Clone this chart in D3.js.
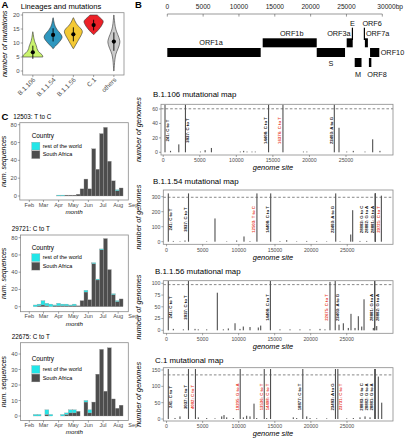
<!DOCTYPE html>
<html><head><meta charset="utf-8">
<script src="https://d3js.org/d3.v7.min.js"></script>
<style>
html,body{margin:0;padding:0;background:#fff;}
svg{display:block;}
text{font-family:"Liberation Sans",Arial,Helvetica,sans-serif;}
</style></head>
<body>
<svg id="fig" width="412" height="440" viewBox="0 0 412 440"></svg>
<script>
// ================= DATA =================
// Panel A: lineages and number of mutations
const lineages = ["B.1.106","B.1.1.54","B.1.1.56","C.1","others"];
const mutationMean = [6.7, 12.9, 13.1, 16.4, 10.5];
const mutationSd   = [2.35, 2.35, 2.5, 1.9, 3.3];
const mutationTicks = [0,5,10,15,20];
// violin profiles: [number of mutations, half width (density units)]
const violin_B1106 = [[5,10],[5.4,9.8],[5.8,9.2],[6.2,8],[6.6,6.6],[7,5.6],[7.5,4.8],[8,4.2],[8.5,3.9],[9,3.5],[9.5,3],[10,2.4],[10.5,1.9],[11,1.5],[11.5,1.2],[12,0.9],[12.5,0.7],[13,0.5],[13.5,0.3],[14,0.1]];
const violin_B1154 = [[8,0.2],[8.5,1.2],[9,2.6],[9.5,4],[10,5.3],[10.5,6.5],[11,7.6],[11.5,8.5],[12,9],[12.5,8.8],[13,8],[13.5,7],[14,5.8],[14.5,4.6],[15,3.6],[15.5,2.8],[16,2.1],[16.5,1.6],[17,1.2],[17.5,0.9],[18,0.6],[18.5,0.4],[19,0.1]];
const violin_B1156 = [[8,0.2],[8.5,1],[9,1.8],[9.5,2.6],[10,3.4],[10.5,4.2],[11,5],[11.5,5.8],[12,6.6],[12.5,7.4],[13,8.1],[13.5,8.7],[14,9],[14.5,8.7],[15,7.8],[15.5,6.5],[16,5.1],[16.5,3.9],[17,2.9],[17.5,2.1],[18,1.4],[18.5,0.8],[19,0.2]];
const violin_C1    = [[13,0.1],[13.5,1.5],[14,3],[14.5,4.3],[15,5.5],[15.5,6.6],[16,7.6],[16.5,8.4],[17,9.1],[17.5,9.6],[18,9.3],[18.5,8.1],[19,6.6],[19.5,5.1],[20,3.6]];
const violin_others= [[0,0.1],[1,0.3],[2,0.5],[3,0.7],[4,1],[5,1.4],[6,2],[7,3],[8,4.2],[9,5.2],[10,5.9],[10.5,6],[11,5.8],[12,5],[13,3.9],[14,2.8],[15,1.9],[16,1.3],[17,0.9],[18,0.6],[19,0.3],[20,0.1]];

// Panel B: genome map
const genomeTicks = [0,5000,10000,15000,20000,25000,30000];
const genomeTickLabels = ["0","5000","10000","15000","20000","25000","30000bp"];
const geneNames  = ["ORF1a","ORF1b","S","ORF3a","E","M","ORF6","ORF7a","ORF8","ORF10"];
const geneStarts = [0,13310,20850,25030,25760,26150,27430,27570,28130,28290];
const geneEnds   = [13030,20850,24800,25870,25900,27100,27570,27990,28470,29580];
const geneRows   = ["mid","top","mid","top","stem","low","stem","top","low","mid"];

// Panel B: mutational maps
const mapLineages = ["B.1.106","B.1.1.54","B.1.1.56","C.1"];
const genomesPerLineage = [67, 329, 108, 150];
const mapYTicks = [[0,20,40,60],[0,100,200,300],[0,25,50,75,100],[0,50,100,150]];
const mapXTicks = [0,5000,10000,15000,20000,25000];
// [genome site, number of genomes]
const bars_B1106 = [[241,66],[3037,66],[14408,66],[16376,66],[23403,66],[996,2],[2128,11],[5090,1],[5730,3],[6590,6],[10545,1],[11000,2],[11460,1],[12140,1],[12590,1],[19180,1],[19645,1],[24044,34],[25100,1],[26000,2],[27600,1],[28650,18],[29645,2]];
const bars_B1154 = [[241,322],[3037,322],[12503,322],[14408,322],[23403,322],[28881,322],[28882,322],[28883,322],[29721,307],[935,5],[1860,3],[2550,8],[5550,3],[6700,155],[8320,3],[9700,8],[10714,35],[11540,4],[15690,4],[16620,10],[18000,3],[19390,5],[20770,4],[22150,3],[24000,3],[25480,48],[25750,210],[26760,5],[27690,5]];
const bars_B1156 = [[241,105],[3037,105],[14408,105],[22675,103],[23403,105],[28881,105],[28882,105],[940,3],[2330,2],[3950,3],[4400,2],[5570,2],[7045,80],[7880,2],[8570,4],[9500,15],[10190,3],[10650,8],[11580,7],[12730,6],[13060,10],[15740,2],[17130,2],[18510,2],[19900,2],[21290,3],[21980,2],[23930,12],[24530,15],[25220,5],[25590,35],[26150,5],[26610,30],[27080,8],[27400,66],[28690,5],[29160,9]];
const bars_C1 = [[241,153],[3037,153],[4002,153],[10205,153],[13536,153],[14408,153],[18877,153],[23403,153],[23731,153],[28881,153],[28882,153],[28883,153],[29340,130],[29810,50],[12116,47],[1170,3],[1860,8],[4400,5],[5560,3],[6710,2],[7640,8],[7960,12],[8330,5],[9250,3],[10640,5],[11100,10],[11560,8],[12490,3],[13870,3],[17560,5],[18030,3],[19420,8],[19880,3],[20800,2],[22190,2],[24960,2],[25880,3],[26800,5],[27500,8],[28190,5]];
// [genome site, label, lineage-specific (1 = highlighted)]
const labels_B1106 = [[241,"241: C to T",0],[3037,"3037: C to T",0],[14408,"14408: C to T",0],[16376,"16376: C to T",1],[23403,"23403: A to G",0]];
const labels_B1154 = [[241,"241: C to T",0],[3037,"3037: C to T",0],[12503,"12503: T to C",1],[14408,"14408: C to T",0],[23403,"23403: A to G",0],[28883,"28883: G to C",0],[28882,"28882: G to A",0],[28881,"28881: G to A",0],[29721,"29721: C to T",1]];
const labels_B1156 = [[241,"241: C to T",0],[3037,"3037: C to T",0],[14408,"14408: C to T",0],[22675,"22675: C to T",1],[23403,"23403: A to G",0],[28881,"28881: G to A",0],[28882,"28882: G to A",0]];
const labels_C1 = [[241,"241: C to T",0],[3037,"3037: C to T",0],[4002,"4002: C to T",1],[10205,"10205: G to A",1],[13536,"13536: C to T",1],[14408,"14408: C to T",1],[18877,"18877: C to T",0],[23403,"23403: A to G",0],[23731,"23731: C to T",1],[28883,"28883: G to C",0],[28882,"28882: G to A",0],[28881,"28881: G to A",0]];

// Panel C: sequences through time (8-day bins)
const monthTicks  = ["2020-02-01","2020-03-01","2020-04-01","2020-05-01","2020-06-01","2020-07-01","2020-08-01","2020-09-01"];
const monthLabels = ["Feb","Mar","Apr","May","Jun","Jul","Aug","Sep"];
const binStarts = ["2020-02-09","2020-02-17","2020-02-25","2020-03-04","2020-03-12","2020-03-20","2020-03-28","2020-04-05","2020-04-13","2020-04-21","2020-04-29","2020-05-07","2020-05-15","2020-05-23","2020-05-31","2020-06-08","2020-06-16","2020-06-24","2020-07-02","2020-07-10","2020-07-18","2020-07-26","2020-08-03"];
const countries = ["rest of the world","South Africa"];
const trackedMutations = ["12503: T to C","29721: C to T","22675: C to T"];
const sa_12503  = [0,0,0,0,0,0,0,0,1,1,1,2,8,19,8,53,30,70,77,39,17,6,9];
const row_12503 = [0,0,0,0,0,0,1,1,0,0,0,0,0,0,0,0,0,0,0,0,0,1,0];
const sa_29721  = [0,1,2,1,0,1,1,1,1,1,1,1,7,17,8,50,31,66,79,43,14,6,9];
const row_29721 = [2,2,5,3,3,1,3,2,2,1,2,0,0,2,0,1,1,1,0,0,1,1,0];
const sa_22675  = [0,0,0,1,0,0,0,0,1,2,2,3,0,9,2,9,27,43,16,44,11,5,7];
const row_22675 = [1,1,0,3,1,0,0,1,1,2,2,0,0,1,2,0,0,0,0,0,0,0,0];
const countTicks = [[0,20,40,60,80],[0,20,40,60,80],[0,10,20,30,40]];

// ================= DRAWING =================
const svg = d3.select("#fig");
const TICK = "#4d4d4d", BORDER = "#8a8a8a", RED = "#e8412f";
const CYAN = "#22e6e8", DARK = "#4d4d4d";

function txt(g, x, y, s, size, opt = {}) {
  const t = g.append("text").attr("x", x).attr("y", y).text(s)
    .attr("font-size", size).attr("fill", opt.fill || "#000");
  if (opt.anchor) t.attr("text-anchor", opt.anchor);
  if (opt.weight) t.attr("font-weight", opt.weight);
  if (opt.italic) t.attr("font-style", "italic");
  if (opt.transform) t.attr("transform", opt.transform).attr("x", null).attr("y", null);
  return t;
}
function frame(g, b) {
  g.append("rect").attr("x", b[0]).attr("y", b[1]).attr("width", b[2]-b[0]).attr("height", b[3]-b[1])
    .attr("fill", "none").attr("stroke", BORDER).attr("stroke-width", 0.8);
}
function yAxis(g, b, scale, ticks, size) {
  ticks.forEach(v => {
    const yy = scale(v);
    g.append("line").attr("x1", b[0]-2).attr("x2", b[0]).attr("y1", yy).attr("y2", yy).attr("stroke", TICK).attr("stroke-width", 0.5);
    txt(g, b[0]-3, yy + size*0.36, String(v), size, {anchor: "end", fill: TICK});
  });
}

// ---------- Panel labels ----------
txt(svg, 1.5, 7.6, "A", 9.5, {weight: "bold"});
txt(svg, 135, 7.6, "B", 9.5, {weight: "bold"});
txt(svg, 1.5, 119.6, "C", 9.5, {weight: "bold"});

// ---------- Panel A ----------
(function() {
  const g = svg.append("g");
  const B = [22.7, 12.7, 124, 75];
  const x = d3.scalePoint().domain(lineages).range([B[0], B[2]]).padding(0.5);
  const y = d3.scaleLinear().domain([0, 20]).range([71, 15]);
  const w = d3.scaleLinear().domain([0, 10]).range([0, 10]);
  const fills = ["#c9f36d", "#2e97bf", "#f4c934", "#ec2027", "#cbcbcb"];
  const profiles = [violin_B1106, violin_B1154, violin_B1156, violin_C1, violin_others];
  frame(g, B);
  txt(g, 20.7, 8.6, "Lineages and mutations", 7.6);
  yAxis(g, B, y, mutationTicks, 6);
  lineages.forEach((l, i) => {
    const cx = x(l);
    const area = d3.area().y(d => y(d[0])).x0(d => cx - w(d[1])).x1(d => cx + w(d[1])).curve(d3.curveCatmullRom);
    g.append("path").attr("d", area(profiles[i])).attr("fill", fills[i]).attr("stroke", "#333").attr("stroke-width", 0.6);
    g.append("line").attr("x1", cx).attr("x2", cx)
      .attr("y1", y(mutationMean[i] - mutationSd[i])).attr("y2", y(mutationMean[i] + mutationSd[i]))
      .attr("stroke", "#000").attr("stroke-width", 0.9);
    g.append("circle").attr("cx", cx).attr("cy", y(mutationMean[i])).attr("r", 2.1).attr("fill", "#000");
    g.append("line").attr("x1", cx).attr("x2", cx).attr("y1", B[3]).attr("y2", B[3]+2).attr("stroke", TICK).attr("stroke-width", 0.5);
    txt(g, 0, 0, l, 6.4, {anchor: "end", fill: TICK, transform: `translate(${cx+3},${B[3]+5.2}) rotate(-45)`});
  });
  txt(g, 0, 0, "number of mutations", 7.3, {anchor: "middle", italic: true, transform: `translate(7.3,${(B[1]+B[3])/2}) rotate(-90)`});
})();

// ---------- Panel B: genome map ----------
(function() {
  const g = svg.append("g");
  const x = d3.scaleLinear().domain([0, 30000]).range([167.3, 382.3]);
  const rows = {stem: [27.7, 40], top: [38.3, 47.3], mid: [48, 57], low: [58, 67]};
  g.append("line").attr("x1", x(0)).attr("x2", x(30000)).attr("y1", 14).attr("y2", 14).attr("stroke", "#555").attr("stroke-width", 0.6);
  genomeTicks.forEach((v, i) => {
    g.append("line").attr("x1", x(v)).attr("x2", x(v)).attr("y1", 14).attr("y2", 16.6).attr("stroke", "#555").attr("stroke-width", 0.6);
    if (i < genomeTicks.length - 1) txt(g, x(v), 9.4, genomeTickLabels[i], 6.6, {anchor: "middle", fill: "#222"});
    else txt(g, x(v) - 5, 9.4, genomeTickLabels[i], 6.6, {anchor: "start", fill: "#222"});
  });
  const FS = 7.3;
  geneNames.forEach((n, i) => {
    const x0 = x(geneStarts[i]), x1 = x(geneEnds[i]);
    const r = rows[geneRows[i]];
    const isStem = geneRows[i] === "stem";
    g.append("rect").attr("x", isStem ? (x0+x1)/2 - 0.6 : x0).attr("width", isStem ? 1.2 : x1 - x0)
      .attr("y", r[0]).attr("height", r[1] - r[0]).attr("fill", "#000");
    const cx = (x0 + x1) / 2;
    let lx, ly, an;
    switch (n) {
      case "ORF1a": lx = cx - 3; ly = r[0] - 2.6; an = "middle"; break;
      case "ORF1b": lx = cx + 2; ly = r[0] - 2.4; an = "middle"; break;
      case "S": lx = cx; ly = r[1] + 9; an = "middle"; break;
      case "ORF3a": lx = x1 - 2; ly = r[0] - 2.4; an = "end"; break;
      case "E": lx = cx; ly = r[0] - 2; an = "middle"; break;
      case "ORF6": lx = cx - 2; ly = r[0] - 2; an = "start"; break;
      case "ORF7a": lx = x0 + 1; ly = r[0] - 2.4; an = "start"; break;
      case "ORF10": lx = x1 + 1.4; ly = (r[0] + r[1]) / 2 + 2.6; an = "start"; break;
      case "M": lx = cx; ly = r[1] + 10; an = "middle"; break;
      case "ORF8": lx = x0 - 1.6; ly = r[1] + 10; an = "start"; break;
    }
    txt(g, lx, ly, n, FS, {anchor: an, fill: "#111"});
  });
})();

// ---------- Panel B: mutational maps ----------
const MAP_LAYOUT = [
  {box: [161, 104.3, 393, 155], xr: [163.24, 374.36], yr: [152.3, 109], title: 97},
  {box: [163.3, 190, 393, 244.3], xr: [166.56, 375.3], yr: [241.7, 196.7], title: 184.2},
  {box: [163.3, 280.7, 393, 333.3], xr: [166.56, 374.7], yr: [330.3, 283.3], title: 274.4},
  {box: [163.3, 367.7, 393, 421], xr: [166.56, 375], yr: [419, 370], title: 362.8}
];
const LABEL_RIGHT = {"B.1.106": [241, 3037], "B.1.1.54": [241], "B.1.1.56": [241, 23403, 28882], "C.1": [241, 23731]};
const mapBars = [bars_B1106, bars_B1154, bars_B1156, bars_C1];
const mapLabels = [labels_B1106, labels_B1154, labels_B1156, labels_C1];

mapLineages.forEach((lin, i) => {
  const L = MAP_LAYOUT[i], B = L.box;
  const g = svg.append("g");
  const yt = mapYTicks[i];
  const x = d3.scaleLinear().domain([0, 28881]).range(L.xr);
  const y = d3.scaleLinear().domain([0, yt[yt.length - 1]]).range(L.yr);
  txt(g, i < 2 ? 153 : 155, L.title, lin + " mutational map", 7.9);
  // bars
  g.selectAll("rect.bar").data(mapBars[i]).join("rect").attr("class", "bar")
    .attr("x", d => x(d[0]) - 0.55).attr("width", 1.1)
    .attr("y", d => y(d[1])).attr("height", d => y(0) - y(d[1]))
    .attr("fill", "#505050");
  // threshold
  const thr = y(0.9 * genomesPerLineage[i]);
  g.append("line").attr("x1", B[0]).attr("x2", B[2]).attr("y1", thr).attr("y2", thr)
    .attr("stroke", "#555").attr("stroke-width", 0.7).attr("stroke-dasharray", "2.6,2");
  frame(g, B);
  // labels
  const rightSide = LABEL_RIGHT[lin] || [];
  const labs = mapLabels[i].map(d => ({bp: d[0], text: d[1], hi: d[2], right: rightSide.includes(d[0])}));
  let prev = Infinity;
  for (let k = labs.length - 1; k >= 0; k--) {
    const lb = labs[k], bx = x(lb.bp);
    if (lb.right) lb.x = bx + 3.9;
    else { lb.x = Math.min(bx - 1.7, prev - 5.3); prev = lb.x; }
  }
  const ym = y(0.45 * genomesPerLineage[i]);
  labs.forEach(lb => {
    txt(g, 0, 0, lb.text, 4.3, {anchor: "middle", weight: "bold", fill: lb.hi ? RED : "#111",
      transform: `translate(${lb.x},${ym}) rotate(-90)`});
  });
  // axes
  yAxis(g, B, y, yt, 5.2);
  mapXTicks.forEach(v => {
    g.append("line").attr("x1", x(v)).attr("x2", x(v)).attr("y1", B[3]).attr("y2", B[3] + 2).attr("stroke", TICK).attr("stroke-width", 0.5);
    txt(g, x(v), B[3] + 7.2, String(v), 5.2, {anchor: "middle", fill: TICK});
  });
  txt(g, 273, B[3] + 15.3, "genome site", 7.4, {anchor: "middle", italic: true});
  txt(g, 0, 0, "number of genomes", 7.3, {anchor: "middle", italic: true,
    transform: `translate(140.6,${(B[1] + B[3]) / 2}) rotate(-90)`});
});

// ---------- Panel C ----------
const C_LAYOUT = [
  {box: [19.8, 122.7, 128.3, 200], yr: [196, 124.7], title: [13.3, 119], legend: 15.3},
  {box: [20.5, 235, 128.3, 311.7], yr: [306.7, 237.7], title: [11.7, 230.6], legend: 14.5},
  {box: [20.5, 342.7, 128.3, 420.5], yr: [416, 354], title: [11.7, 339], legend: 18.6}
];
const parse = d3.timeParse("%Y-%m-%d");
const tx = d3.scaleTime().domain([parse("2020-02-01"), parse("2020-09-01")]).range([29.3, 133.3]);
const series = [[sa_12503, row_12503], [sa_29721, row_29721], [sa_22675, row_22675]];

trackedMutations.forEach((m, i) => {
  const L = C_LAYOUT[i], B = L.box;
  const g = svg.append("g");
  const ct = countTicks[i];
  const y = d3.scaleLinear().domain([0, ct[ct.length - 1]]).range(L.yr);
  txt(g, L.title[0], L.title[1], m, 6.3);
  const rows = binStarts.map((s, k) => ({start: parse(s), "South Africa": series[i][0][k], "rest of the world": series[i][1][k]}));
  const stack = d3.stack().keys(["South Africa", "rest of the world"])(rows);
  const col = {"South Africa": DARK, "rest of the world": CYAN};
  stack.forEach(layer => {
    g.selectAll(null).data(layer.filter(d => d[1] > d[0])).join("rect")
      .attr("x", d => tx(d.data.start))
      .attr("width", d => tx(d3.timeDay.offset(d.data.start, 8)) - tx(d.data.start))
      .attr("y", d => y(d[1])).attr("height", d => y(d[0]) - y(d[1]))
      .attr("fill", col[layer.key]).attr("stroke", "#9a9a9a").attr("stroke-width", 0.3);
  });
  frame(g, B);
  yAxis(g, B, y, ct, 5.6);
  monthTicks.forEach((d, k) => {
    const xx = tx(parse(d));
    if (xx <= B[2]) g.append("line").attr("x1", xx).attr("x2", xx).attr("y1", B[3]).attr("y2", B[3] + 2).attr("stroke", TICK).attr("stroke-width", 0.5);
    txt(g, xx, B[3] + 6.6, monthLabels[k], 5.6, {anchor: "middle", fill: TICK});
  });
  txt(g, (B[0] + B[2]) / 2, B[3] + 13.8, "month", 6.2, {anchor: "middle", italic: true});
  txt(g, 0, 0, "num. sequences", 7, {anchor: "middle", italic: true,
    transform: `translate(5.6,${(B[1] + B[3]) / 2}) rotate(-90)`});
  // legend
  const ly = B[1] + L.legend;
  txt(g, 31.7, ly, "Country", 6.4);
  countries.forEach((c, k) => {
    const ky = ly + 4.2 + k * 8.6;
    g.append("rect").attr("x", 31.7).attr("y", ky).attr("width", 8.2).attr("height", 7.8)
      .attr("fill", k === 0 ? CYAN : DARK).attr("stroke", "#9a9a9a").attr("stroke-width", 0.3);
    txt(g, 42.7, ky + 5.6, c, 5.5);
  });
});
</script>
</body></html>
